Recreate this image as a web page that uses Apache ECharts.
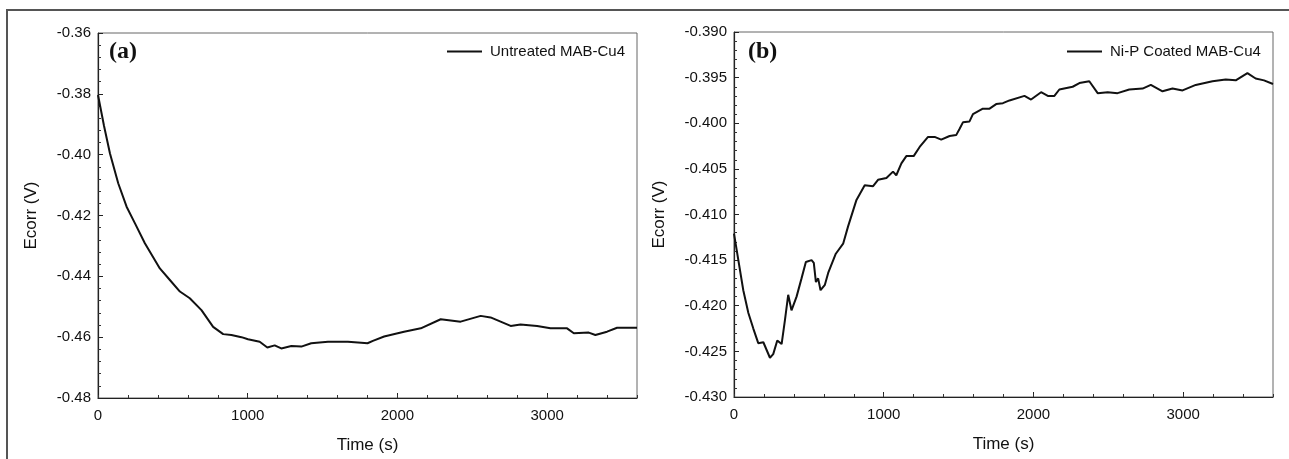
<!DOCTYPE html>
<html>
<head>
<meta charset="utf-8">
<title>Ecorr vs time</title>
<script src="https://cdn.jsdelivr.net/npm/echarts@6/dist/echarts.min.js"></script>
<style>
  html, body { margin: 0; padding: 0; background: #fff; }
  #chart { width: 1289px; height: 459px; }
</style>
</head>
<body>
<div id="chart"></div>
<script>
// (a) untreated sample
var untreatedName = 'Untreated MAB-Cu4';
var untreatedTime = [0, 40, 80, 135, 191, 247, 313, 413, 480, 547, 613, 691, 769, 836, 891, 958, 1002, 1080, 1131, 1180, 1224, 1291, 1358, 1424, 1536, 1669, 1758, 1800, 1836, 1911, 2044, 2156, 2289, 2422, 2556, 2622, 2756, 2822, 2933, 3022, 3133, 3178, 3278, 3322, 3400, 3467, 3600];
var untreatedEcorr = [-0.3804, -0.3905, -0.3996, -0.4094, -0.4171, -0.4226, -0.4291, -0.4374, -0.4412, -0.4450, -0.4472, -0.4511, -0.4566, -0.4590, -0.4593, -0.4600, -0.4607, -0.4615, -0.4634, -0.4627, -0.4637, -0.4629, -0.4631, -0.4620, -0.4615, -0.4615, -0.4618, -0.4620, -0.4612, -0.4598, -0.4582, -0.4571, -0.4541, -0.4549, -0.4530, -0.4535, -0.4563, -0.4558, -0.4563, -0.4571, -0.4571, -0.4587, -0.4585, -0.4593, -0.4582, -0.4569, -0.4569];

// (b) Ni-P coated sample
var coatedName = 'Ni-P Coated MAB-Cu4';
var coatedTime = [0, 29, 62, 96, 129, 162, 196, 240, 262, 289, 318, 340, 362, 384, 418, 451, 480, 518, 533, 547, 562, 578, 607, 629, 680, 729, 762, 818, 873, 929, 962, 1018, 1062, 1084, 1118, 1151, 1200, 1240, 1296, 1340, 1384, 1440, 1484, 1507, 1529, 1573, 1596, 1662, 1707, 1751, 1796, 1840, 1940, 1984, 2051, 2096, 2140, 2173, 2262, 2307, 2373, 2429, 2496, 2562, 2640, 2729, 2784, 2862, 2929, 2996, 3084, 3196, 3284, 3351, 3429, 3484, 3540, 3600];
var coatedEcorr = [-0.4121, -0.4150, -0.4183, -0.4208, -0.4225, -0.4241, -0.4240, -0.4257, -0.4253, -0.4238, -0.4242, -0.4216, -0.4188, -0.4205, -0.4190, -0.4170, -0.4152, -0.4150, -0.4153, -0.4174, -0.4170, -0.4183, -0.4177, -0.4164, -0.4143, -0.4132, -0.4113, -0.4084, -0.4068, -0.4069, -0.4062, -0.4060, -0.4053, -0.4057, -0.4044, -0.4036, -0.4036, -0.4026, -0.4015, -0.4015, -0.4018, -0.4014, -0.4013, -0.4006, -0.3999, -0.3998, -0.3990, -0.3984, -0.3984, -0.3979, -0.3978, -0.3975, -0.3970, -0.3974, -0.3966, -0.3970, -0.3970, -0.3963, -0.3960, -0.3956, -0.3954, -0.3967, -0.3966, -0.3967, -0.3963, -0.3962, -0.3958, -0.3965, -0.3962, -0.3964, -0.3958, -0.3954, -0.3952, -0.3953, -0.3945, -0.3951, -0.3953, -0.3957];

var panelLabels = ['(a)', '(b)'];

function pairs(xs, ys) {
    return xs.map(function (x, i) { return [x, ys[i]]; });
}

var font = 'Liberation Sans, Arial, sans-serif';
var ink = '#111';

function timeAxis(grid) {
    return {
        type: 'value', gridIndex: grid, min: 0, max: 3600, interval: 1000,
        name: 'Time (s)', nameLocation: 'middle', nameGap: 39,
        nameTextStyle: { fontFamily: font, fontSize: 17, color: ink },
        axisLine: { lineStyle: { color: '#222', width: 1.2 } },
        axisTick: { inside: true, length: 5, lineStyle: { color: '#222' } },
        axisLabel: {
            fontFamily: font, fontSize: 15, color: ink, margin: 10, showMaxLabel: false,
            formatter: function (v) { return String(v); }
        },
        splitLine: { show: false }
    };
}
// second x axis, only for the 200 s minor ticks
function minorTimeAxis(grid) {
    return {
        type: 'value', gridIndex: grid, min: 0, max: 3600, interval: 200, position: 'bottom',
        axisLine: { show: false },
        axisTick: { inside: true, length: 3, lineStyle: { color: '#333' } },
        axisLabel: { show: false },
        splitLine: { show: false }
    };
}
function ecorrAxis(grid, lo, hi, step, digits, gap) {
    return {
        type: 'value', gridIndex: grid, min: lo, max: hi, interval: step,
        name: 'Ecorr (V)', nameLocation: 'middle', nameGap: gap,
        nameTextStyle: { fontFamily: font, fontSize: 17, color: ink },
        axisLine: { show: true, lineStyle: { color: '#222', width: 1.2 } },
        axisTick: { show: true, inside: true, length: 5, lineStyle: { color: '#222' } },
        minorTick: { show: true, splitNumber: 5, length: 3, lineStyle: { color: '#333' } },
        axisLabel: {
            fontFamily: font, fontSize: 15, color: ink, margin: 7,
            formatter: function (v) { return v.toFixed(digits); }
        },
        splitLine: { show: false }
    };
}

var legendText = { fontFamily: font, fontSize: 15, color: ink, padding: [0, 0, 0, 3] };

var chart = echarts.init(document.getElementById('chart'));
chart.setOption({
    animation: false,
    backgroundColor: '#fff',
    title: [
        { text: panelLabels[0], left: 109, top: 40, padding: 0,
          textStyle: { fontFamily: 'Liberation Serif, Times New Roman, serif', fontWeight: 'bold', fontSize: 24, color: ink } },
        { text: panelLabels[1], left: 748, top: 40, padding: 0,
          textStyle: { fontFamily: 'Liberation Serif, Times New Roman, serif', fontWeight: 'bold', fontSize: 24, color: ink } }
    ],
    legend: [
        { data: [untreatedName], left: 447, top: 44, padding: 0, icon: 'rect', itemWidth: 35, itemHeight: 2,
          itemStyle: { color: ink }, textStyle: legendText },
        { data: [coatedName], left: 1067, top: 44, padding: 0, icon: 'rect', itemWidth: 35, itemHeight: 2,
          itemStyle: { color: ink }, textStyle: legendText }
    ],
    grid: [
        { left: 98, top: 33, width: 539, height: 365, show: true, borderColor: '#666', borderWidth: 1 },
        { left: 734, top: 32, width: 539, height: 365, show: true, borderColor: '#666', borderWidth: 1 }
    ],
    xAxis: [timeAxis(0), minorTimeAxis(0), timeAxis(1), minorTimeAxis(1)],
    yAxis: [
        ecorrAxis(0, -0.48, -0.36, 0.02, 2, 58),
        ecorrAxis(1, -0.43, -0.39, 0.005, 3, 66)
    ],
    graphic: [
        { type: 'rect', shape: { x: 7, y: 10, width: 1300, height: 470 },
          style: { fill: 'none', stroke: '#555', lineWidth: 2 }, silent: true }
    ],
    series: [
        { name: untreatedName, type: 'line', xAxisIndex: 0, yAxisIndex: 0,
          data: pairs(untreatedTime, untreatedEcorr), symbol: 'none',
          lineStyle: { color: ink, width: 2 }, itemStyle: { color: ink } },
        { name: coatedName, type: 'line', xAxisIndex: 2, yAxisIndex: 1,
          data: pairs(coatedTime, coatedEcorr), symbol: 'none',
          lineStyle: { color: ink, width: 2 }, itemStyle: { color: ink } }
    ]
});
</script>
</body>
</html>
